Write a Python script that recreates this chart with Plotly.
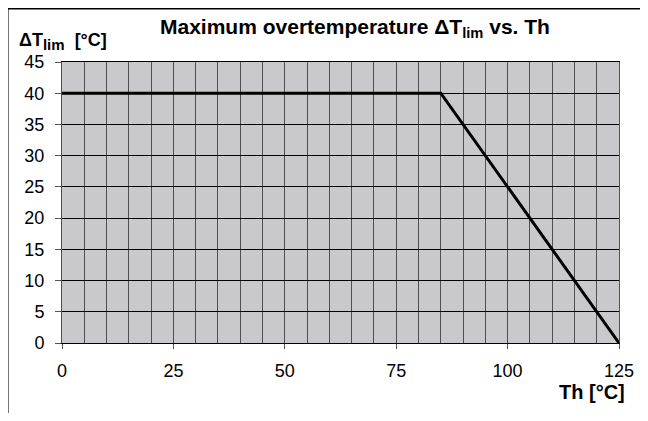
import plotly.graph_objects as go

th = [0, 85, 125]
dt_lim = [40, 40, 0]
x_ticks = [0, 25, 50, 75, 100, 125]
y_ticks = [0, 5, 10, 15, 20, 25, 30, 35, 40, 45]

OFF = 8  # page body margin
W, H = 640, 405
# plot area in window pixels
PL, PR, PT, PB = 61.5, 619, 61.5, 343
L, R, T, B = PL - OFF, W - (PR - OFF), PT - OFF, H - (PB - OFF)
pw, ph = W - L - R, H - T - B

def px(x):
    return (x - OFF - L) / pw

def py(y):
    return (H - B - (y - OFF)) / ph

fig = go.Figure()
fig.add_trace(go.Scatter(x=th, y=dt_lim, mode="lines",
                         line=dict(color="black", width=3), showlegend=False))

fnt = dict(family="Liberation Sans, Arial, sans-serif", color="black")

fig.update_layout(
    width=W, height=H,
    margin=dict(l=L, r=R, t=T, b=B, pad=0),
    paper_bgcolor="white",
    plot_bgcolor="#c9c9cd",
    font=dict(size=16, **fnt),
    xaxis=dict(range=[0, 125], tickvals=x_ticks, ticks="outside", ticklen=5,
               tickcolor="#555555", showgrid=True, gridcolor="#505050", gridwidth=1,
               minor=dict(dtick=5, showgrid=True, gridcolor="#505050", gridwidth=1),
               showline=True, linecolor="black", linewidth=1, mirror=True,
               zeroline=False, ticklabelstandoff=6, tickfont=dict(size=18, **fnt)),
    yaxis=dict(range=[0, 45], tickvals=y_ticks, ticks="outside", ticklen=6,
               tickcolor="#555555", showgrid=True, gridcolor="black", gridwidth=1,
               showline=True, linecolor="#505050", linewidth=1, mirror=True,
               zeroline=False, ticklabelstandoff=7, tickfont=dict(size=18, **fnt)),
    annotations=[
        dict(text="<b>Maximum overtemperature ΔT<sub>lim</sub> vs. Th</b>",
             x=px(355), y=py(27), xref="paper", yref="paper",
             xanchor="center", yanchor="middle", showarrow=False,
             font=dict(size=21, **fnt)),
        dict(text="<b>ΔT<sub><span style='font-size:15px'>lim</span></sub>&#160; [°C]</b>",
             x=px(16), y=py(41), xref="paper", yref="paper",
             xanchor="left", yanchor="middle", showarrow=False,
             font=dict(size=18, **fnt)),
        dict(text="<b>Th [°C]</b>",
             x=px(627), y=py(392), xref="paper", yref="paper",
             xanchor="right", yanchor="middle", showarrow=False,
             font=dict(size=20, **fnt)),
    ],
    shapes=[
        dict(type="line", xref="paper", yref="paper",
             x0=px(7), y0=py(460), x1=px(7), y1=py(8),
             line=dict(color="black", width=2), layer="below"),
        dict(type="line", xref="paper", yref="paper",
             x0=px(7), y0=py(8), x1=px(700), y1=py(8),
             line=dict(color="black", width=2), layer="below"),
    ],
)

fig.write_html("out.html")
